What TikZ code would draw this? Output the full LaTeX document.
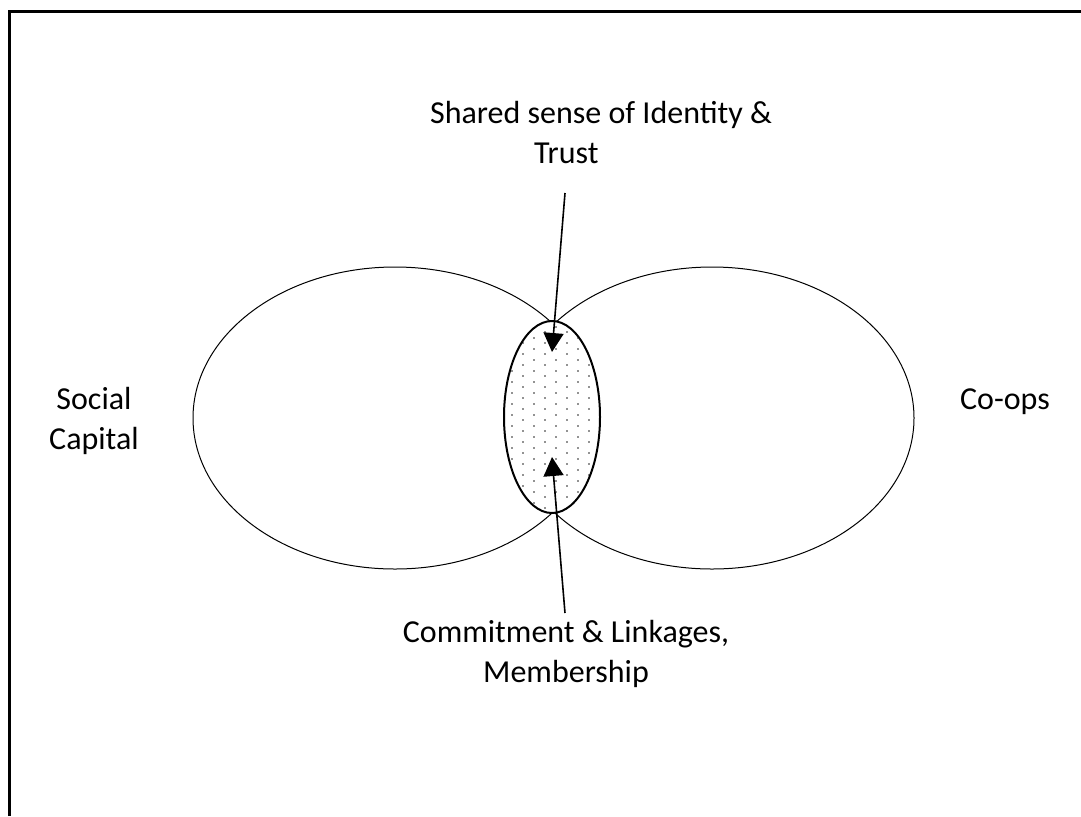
\documentclass[tikz,border=0pt]{standalone}
\usepackage{fontspec}
\setmainfont{Carlito}
\usetikzlibrary{arrows.meta}

\begin{document}
\begin{tikzpicture}[x=0.5pt, y=-0.5pt, thick,
		lbl/.style = {font=\fontsize{16}{20}\selectfont, inner sep=0pt, align=center},
		set/.style = {draw, line width=0.5pt},
		core/.style = {draw, line width=1pt},
		arr/.style = {-{Triangle[length=9.5pt, width=10pt]}, line width=0.8pt}]
		\useasboundingbox (0,0) rectangle (1081,816);
		\draw[line width=1.5pt] (9.5,816) |- (1081,11);
		% the two sets
		\draw[set] (395,418) ellipse [x radius=202, y radius=151];
		\draw[set] (712,418) ellipse [x radius=202, y radius=151];
		% overlap with dots
		\fill[white] (552,417) ellipse [x radius=48, y radius=96];
		\begin{scope}
			\clip (552,417) ellipse [x radius=47, y radius=95];
			\foreach \row in {0,...,36} {
				\foreach \col in {0,...,5} {
					\pgfmathsetmacro{\dx}{mod(\row,2)*11}
					\fill[gray!85] (500+\col*22+\dx,320+\row*5.5) rectangle ++(2.4,2.4);
				}
			}
		\end{scope}
		\draw[core] (552,417) ellipse [x radius=48, y radius=96];
		% labels
		\node[lbl] (social) at (94,421) {Social\\Capital};
		\node[lbl] (coops) at (1005,402) {Co-ops};
		\node[lbl, align=left] (identity) at (601,132) {Shared sense of Identity \&\\\hspace*{52pt}Trust};
		\node[lbl] (commit) at (566,654) {Commitment \& Linkages,\\Membership};
		\coordinate (topin) at (552,352);
		\coordinate (botin) at (552,457);
		\draw[arr] (565,193) -- (topin);
		\draw[arr] (565,613) -- (botin);
	\end{tikzpicture}
\end{document}
